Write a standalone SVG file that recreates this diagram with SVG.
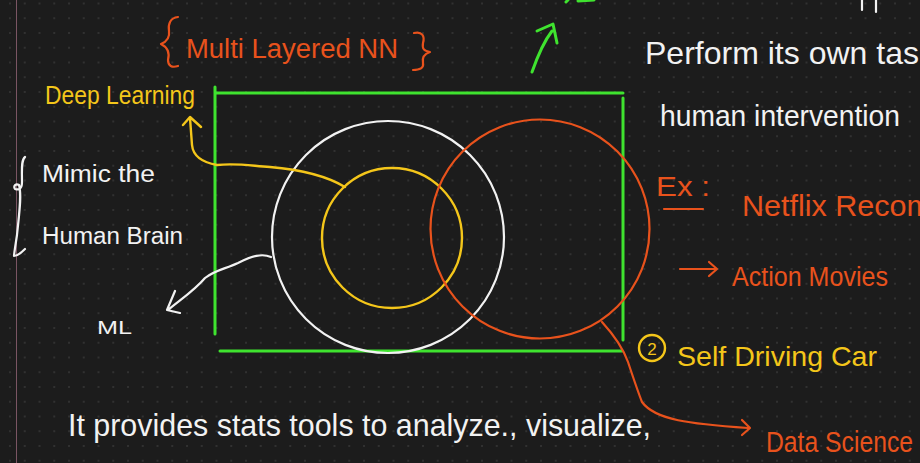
<svg xmlns="http://www.w3.org/2000/svg" width="920" height="463" viewBox="0 0 920 463">
<defs>
<pattern id="dots" x="9" y="2.5" width="14.75" height="14.75" patternUnits="userSpaceOnUse">
<circle cx="1" cy="1" r="0.9" fill="#3a3a3a"/>
</pattern>
<style>
.t{font-family:"Liberation Sans","DejaVu Sans",sans-serif;}
.w{fill:#f2f2f2;}
.o{fill:#e8521c;}
.y{fill:#f4c61a;}
.sw{fill:none;stroke:#f2f2f2;stroke-width:2.2;stroke-linecap:round;stroke-linejoin:round;}
.so{fill:none;stroke:#e8521c;stroke-width:2.2;stroke-linecap:round;stroke-linejoin:round;}
.sy{fill:none;stroke:#f4c61a;stroke-width:2.4;stroke-linecap:round;stroke-linejoin:round;}
.sg{fill:none;stroke:#3fe32f;stroke-width:3;stroke-linecap:round;stroke-linejoin:round;}
</style>
</defs>
<rect width="920" height="463" fill="#1c1c1c"/>
<rect width="920" height="463" fill="url(#dots)"/>
<line x1="16.5" y1="0" x2="16.5" y2="463" stroke="#7a5563" stroke-width="1"/>

<g id="box">
<path class="sg" d="M215 87 V334 M215 93 H623 M623 98 V340 M220 351 H622"/>
</g>
<g id="ml-circle"><circle class="sw" cx="388" cy="237" r="116" stroke-width="2.5"/></g>
<g id="dl-circle"><circle class="sy" cx="392" cy="238" r="70"/></g>
<g id="ds-circle"><circle class="so" cx="540" cy="229" r="109.5" stroke-width="2.4"/></g>

<g id="connectors">
<path class="sy" d="M345 187 C330 178 305 170 270 167 C245 165 235 163 217 165 C200 162 193 155 192 145 L190 118 M183 125 L190 117 L201 127"/>
<path class="sw" d="M271 257 C262 253 252 256 238 263 C225 269 215 270 205 278 C195 290 180 300 168 310 M175 291 L167 310 L180 313"/>
<path class="so" d="M602 322 C612 333 622 345 628 362 C634 380 638 392 642 402 C655 420 690 424 748 428 M742 420 L750 428 L742 435"/>
<path class="sg" d="M532 72 C538 55 545 40 552 31 M537 31 L553 24 L557 43"/>
<path class="sg" d="M566 2 L568 0 M578 1 L594 0"/>
<path class="so" d="M680 269 H716 M709 262 L717 269 L709 276"/>
</g>

<g id="multi-layered">
<path class="so" d="M178 17 C170 18 168 24 169 31 C170 38 166 42 161 44 C167 47 170 52 168 60 C168 66 172 68 178 66"/>
<text class="t o" x="186" y="58" font-size="27" textLength="212" lengthAdjust="spacingAndGlyphs">Multi Layered NN</text>
<path class="so" d="M414 33 C422 31 425 36 423 43 C422 49 424 51 430 52 C424 54 422 58 423 63 C424 68 420 70 413 70"/>
</g>
<g id="deep-learning"><text class="t y" x="45" y="104" font-size="25" textLength="150" lengthAdjust="spacingAndGlyphs">Deep Learning</text></g>
<g id="mimic">
<path class="sw" d="M25 157 C21 160 22 170 22 182 C22 190 18 190 15 189 C13 186 16 183 19 185 C22 195 19 215 17 235 C15 248 14 254 14 256 C17 256 22 252 25 249"/>
<text class="t w" x="42" y="182" font-size="23" textLength="113" lengthAdjust="spacingAndGlyphs">Mimic the</text>
<text class="t w" x="42" y="244" font-size="23" textLength="141" lengthAdjust="spacingAndGlyphs">Human Brain</text>
</g>
<g id="ml-label"><text class="t w" x="97" y="334" font-size="18" textLength="35" lengthAdjust="spacingAndGlyphs">ML</text></g>
<g id="perform">
<path class="sw" d="M862 0 V10 M876 0 V12"/>
<text class="t w" x="645" y="64" font-size="32" textLength="290" lengthAdjust="spacingAndGlyphs">Perform its own task</text>
<text class="t w" x="660" y="126" font-size="29" textLength="240" lengthAdjust="spacingAndGlyphs">human intervention</text>
</g>
<g id="ex">
<text class="t o" x="656" y="196" font-size="28" textLength="54" lengthAdjust="spacingAndGlyphs">Ex :</text>
<line class="so" x1="664" y1="209" x2="703" y2="209"/>
<text class="t o" x="742" y="216" font-size="29" textLength="190" lengthAdjust="spacingAndGlyphs">Netflix Recom</text>
<text class="t o" x="732" y="286" font-size="27" textLength="156" lengthAdjust="spacingAndGlyphs">Action Movies</text>
</g>
<g id="self-driving">
<circle class="sy" cx="652" cy="348" r="13" stroke-width="2"/>
<text class="t y" x="652" y="355" font-size="17" text-anchor="middle">2</text>
<text class="t y" x="677" y="366" font-size="28" textLength="200" lengthAdjust="spacingAndGlyphs">Self Driving Car</text>
</g>
<g id="stats"><text class="t w" x="68" y="436" font-size="32" textLength="583" lengthAdjust="spacingAndGlyphs">It provides stats tools to analyze., visualize,</text></g>
<g id="data-science"><text class="t o" x="766" y="452" font-size="29" textLength="147" lengthAdjust="spacingAndGlyphs">Data Science</text></g>
</svg>
